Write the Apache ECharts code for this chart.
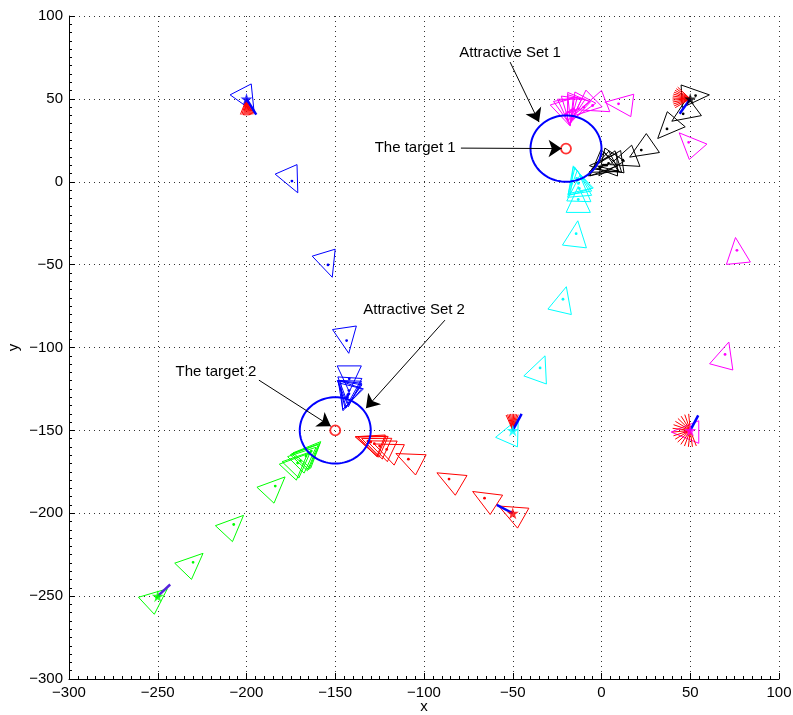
<!DOCTYPE html>
<html><head><meta charset="utf-8">
<script src="https://cdn.jsdelivr.net/npm/echarts/dist/echarts.min.js"></script>
<style>html,body{margin:0;padding:0;background:#fff}#c{width:793px;height:715px}</style>
</head><body><div id="c"></div><script>
// ---------- data (data units) ----------
const xTicks = [-300,-250,-200,-150,-100,-50,0,50,100];
const yTicks = [-300,-250,-200,-150,-100,-50,0,50,100];
// poses: [x, y, heading(deg)]
const bluePoses = [[-199.5,48.9,-61],[-174.4,0.4,-65],[-154.1,-50.2,-72],[-143.6,-95.8,-81],[-142.1,-118.9,-90],
  [-142.3,-126,-94],[-142.3,-127.9,-92],[-143,-129,-100],[-143.6,-130.6,-105],[-143.2,-130,-110],[-142.8,-128.5,-97]];
const greenPoses = [[-250.5,-250.7,41],[-230.1,-229.6,44],[-207.2,-206.8,45],[-183.8,-183.6,45],[-171.2,-169.7,45],
  [-169.6,-168.4,44],[-166.5,-165.5,43],[-165,-164,45],[-164.2,-163.4,45],[-163.5,-162.5,47]];
const redPoses = [[-51.0,-199.3,152],[-65.9,-190.9,149],[-85.9,-179.4,151],[-108.8,-167.4,154],[-121,-161.5,155],
  [-125,-159.5,156],[-128,-158,157],[-130,-157,158],[-131,-156.8,158],[-131.5,-156.5,160]];
const cyanPoses = [[-50.2,-150,65],[-34.6,-112.3,69],[-21.7,-70.9,76],[-14.3,-31.3,83],[-13.1,-10.7,90],
  [-12.5,-4,88],[-13,-1,95],[-13.6,0.9,100],[-14,2,104],[-13.5,1.5,108]];
const magentaPoses = [[47,-151,180],[69.6,-104.2,74],[76.3,-41.4,96],[49.1,23.8,133],[9.6,47,173],[-5,46,200],
  [-10,45,222],[-13,44,240],[-15,43,252],[-17,43,262],[-18,42,270],[-19,42,280],[-20,41,288],[-16,44,246]];
const blackPoses = [[53,52,3],[46,41,215],[36.9,31.9,228],[22.4,19.1,213],[12,13,200],
  [4,11,188],[2,10,196],[0,9,205],[-1,8,215],[-1,9,225],[1,10,182],[3,10,235]];
// start positions and initial heading-line end points
const blueStart = [-200,50], blueHeadEnd = [-194.5,40.5];
const greenStart = [-250,-250], greenHeadEnd = [-243,-243];
const redStart = [-50,-200], redHeadEnd = [-59,-195];
const cyanStart = [-50,-150], cyanHeadEnd = [-45,-140];
const magentaStart = [50,-150], magentaHeadEnd = [54.5,-141];
const blackStart = [50,50], blackHeadEnd = [44,41];
// red fan directions (deg) at starts
const blueFan = [-110,-105,-100,-96,-92,-88,-84,-80,-76,-72,-68,-64];
const blackFan = [135,142,149,156,163,170,177,184,191,198,205,212];
const cyanFan = [72,77,82,87,92,97,102,107,112];
const magentaFan = [95,108,121,134,147,160,173,186,199,212,225,238,251,264,277,290];
// attractive sets [cx, cy, r] and targets
const attractiveSets = [[-20,20,20],[-150,-150,20]];
const targets = [[-20,20],[-150,-150]];
// annotations
const annoText = ['Attractive Set 1','The target 1','Attractive Set 2','The target 2'];
const annoTextPos = [[-51.5,77.7],[-105,20.3],[-105.6,-77.4],[-217.2,-114.4]];
const arrowFrom = [[-51.5,72.2],[-79.2,20.3],[-88.2,-83.5],[-193,-119.7]];
const arrowTo = [[-35.2,36],[-22.5,20],[-132.7,-136.6],[-152.5,-147.5]];

// ---------- styles ----------
const FONT = 'Liberation Sans, Arial, Helvetica, sans-serif';
const HH = 7.8, HB = 6.8, FAN_LEN = 10;
const COL = {blue:'#0000ff', green:'#00ff00', red:'#ff0000', cyan:'#00ffff', magenta:'#ff00ff', black:'#000000'};

function triSeries(poses, color){
  return {type:'custom', data:poses, encode:{x:0,y:1}, z:2, animation:false,
    renderItem:function(params, api){
      const x=api.value(0), y=api.value(1), h=api.value(2)*Math.PI/180;
      const ux=Math.cos(h), uy=Math.sin(h), nx=-uy, ny=ux;
      const a=api.coord([x+HH*ux, y+HH*uy]);
      const b1=api.coord([x-HH*ux+HB*nx, y-HH*uy+HB*ny]);
      const b2=api.coord([x-HH*ux-HB*nx, y-HH*uy-HB*ny]);
      const c=api.coord([x,y]);
      return {type:'group', children:[
        {type:'polygon', shape:{points:[a,b1,b2]}, style:{fill:null, stroke:color, lineWidth:1}},
        {type:'circle', shape:{cx:c[0], cy:c[1], r:1.4}, style:{fill:color}}
      ]};
    }};
}
function fanData(start, angles){
  return angles.map(function(d){const r=d*Math.PI/180;
    return {coords:[start,[start[0]+FAN_LEN*Math.cos(r), start[1]+FAN_LEN*Math.sin(r)]]};});
}
const STAR = 'path://M50,0 L61,35 L98,35 L68,57 L79,91 L50,70 L21,91 L32,57 L2,35 L39,35 Z';

const axisCommon = {
  type:'value', min:-300, max:100, interval:50,
  axisLine:{show:true, onZero:false, lineStyle:{color:'#000', width:1}},
  axisTick:{show:true, inside:true, length:6, lineStyle:{color:'#000'}},
  minorTick:{show:true, splitNumber:10, length:3, lineStyle:{color:'#000'}},
  axisLabel:{color:'#000', fontSize:15, fontFamily:FONT, margin:6,
    formatter:function(v){return String(v).replace('-','\u2212');}},
  splitLine:{show:true, lineStyle:{color:'#333', width:1, type:[1,4]}},
  nameTextStyle:{color:'#000', fontSize:15, fontFamily:FONT},
  nameMoveOverlap:false
};

const chart = echarts.init(document.getElementById('c'), null, {renderer:'canvas'});
const series = [
  triSeries(bluePoses, COL.blue), triSeries(greenPoses, COL.green), triSeries(redPoses, COL.red),
  triSeries(cyanPoses, COL.cyan), triSeries(magentaPoses, COL.magenta), triSeries(blackPoses, COL.black),
  {type:'custom', data:attractiveSets, z:3, animation:false,
    renderItem:function(params, api){
      const cx=api.value(0), cy=api.value(1), r=api.value(2); const pts=[];
      for(let k=0;k<96;k++){const t=k/96*2*Math.PI; pts.push(api.coord([cx+r*Math.cos(t), cy+r*Math.sin(t)]));}
      return {type:'polygon', shape:{points:pts}, style:{fill:null, stroke:COL.blue, lineWidth:2}};
    }},
  {type:'lines', coordinateSystem:'cartesian2d', z:4, animation:false, symbol:'none',
    lineStyle:{color:COL.red, width:1, opacity:1},
    data:[].concat(fanData(blueStart,blueFan), fanData(blackStart,blackFan), fanData(cyanStart,cyanFan), fanData(magentaStart,magentaFan))},
  {type:'lines', coordinateSystem:'cartesian2d', z:5, animation:false, symbol:'none',
    lineStyle:{width:2.5, opacity:1},
    data:[
      {coords:[blueStart,blueHeadEnd], lineStyle:{color:COL.blue}},
      {coords:[greenStart,greenHeadEnd], lineStyle:{color:'#5522dd'}},
      {coords:[redStart,redHeadEnd], lineStyle:{color:COL.blue}},
      {coords:[cyanStart,cyanHeadEnd], lineStyle:{color:COL.blue}},
      {coords:[magentaStart,magentaHeadEnd], lineStyle:{color:COL.blue}},
      {coords:[blackStart,blackHeadEnd], lineStyle:{color:COL.blue}}
    ]},
  {type:'scatter', z:6, animation:false, symbol:STAR, symbolSize:12,
    data:[
      {value:blueStart, itemStyle:{color:COL.blue}},
      {value:greenStart, itemStyle:{color:COL.green}},
      {value:redStart, itemStyle:{color:COL.red}},
      {value:cyanStart, itemStyle:{color:COL.cyan}},
      {value:magentaStart, itemStyle:{color:COL.magenta}},
      {value:blackStart, itemStyle:{color:COL.black}}
    ]},
  {type:'scatter', z:6, animation:false, symbol:'circle', symbolSize:10,
    itemStyle:{color:'rgba(0,0,0,0)', borderColor:COL.red, borderWidth:1.8}, data:targets},
  {type:'lines', coordinateSystem:'cartesian2d', z:7, animation:false,
    symbol:['none','arrow'], symbolSize:[9,13],
    lineStyle:{color:'#000', width:1, opacity:1},
    data:arrowFrom.map(function(f,i){return {coords:[f, arrowTo[i]]};})},
  {type:'custom', z:8, animation:false, data:annoTextPos,
    renderItem:function(params, api){
      const p=api.coord([api.value(0), api.value(1)]);
      return {type:'text', x:p[0], y:p[1], style:{text:annoText[params.dataIndex], fill:'#000',
        fontSize:15, fontFamily:FONT, align:'center', verticalAlign:'middle'}};
    }}
];
chart.setOption({
  animation:false, backgroundColor:'#fff',
  grid:{left:69, right:14, top:16, bottom:36, containLabel:false, outerBoundsMode:'none'},
  xAxis:Object.assign({}, axisCommon, {name:'x', nameLocation:'middle', nameGap:20,
    axisLabel:Object.assign({}, axisCommon.axisLabel, {customValues:xTicks})}),
  yAxis:Object.assign({}, axisCommon, {name:'y', nameLocation:'middle', nameGap:48, nameRotate:90,
    axisLabel:Object.assign({}, axisCommon.axisLabel, {customValues:yTicks})}),
  series:series
});
</script></body></html>
